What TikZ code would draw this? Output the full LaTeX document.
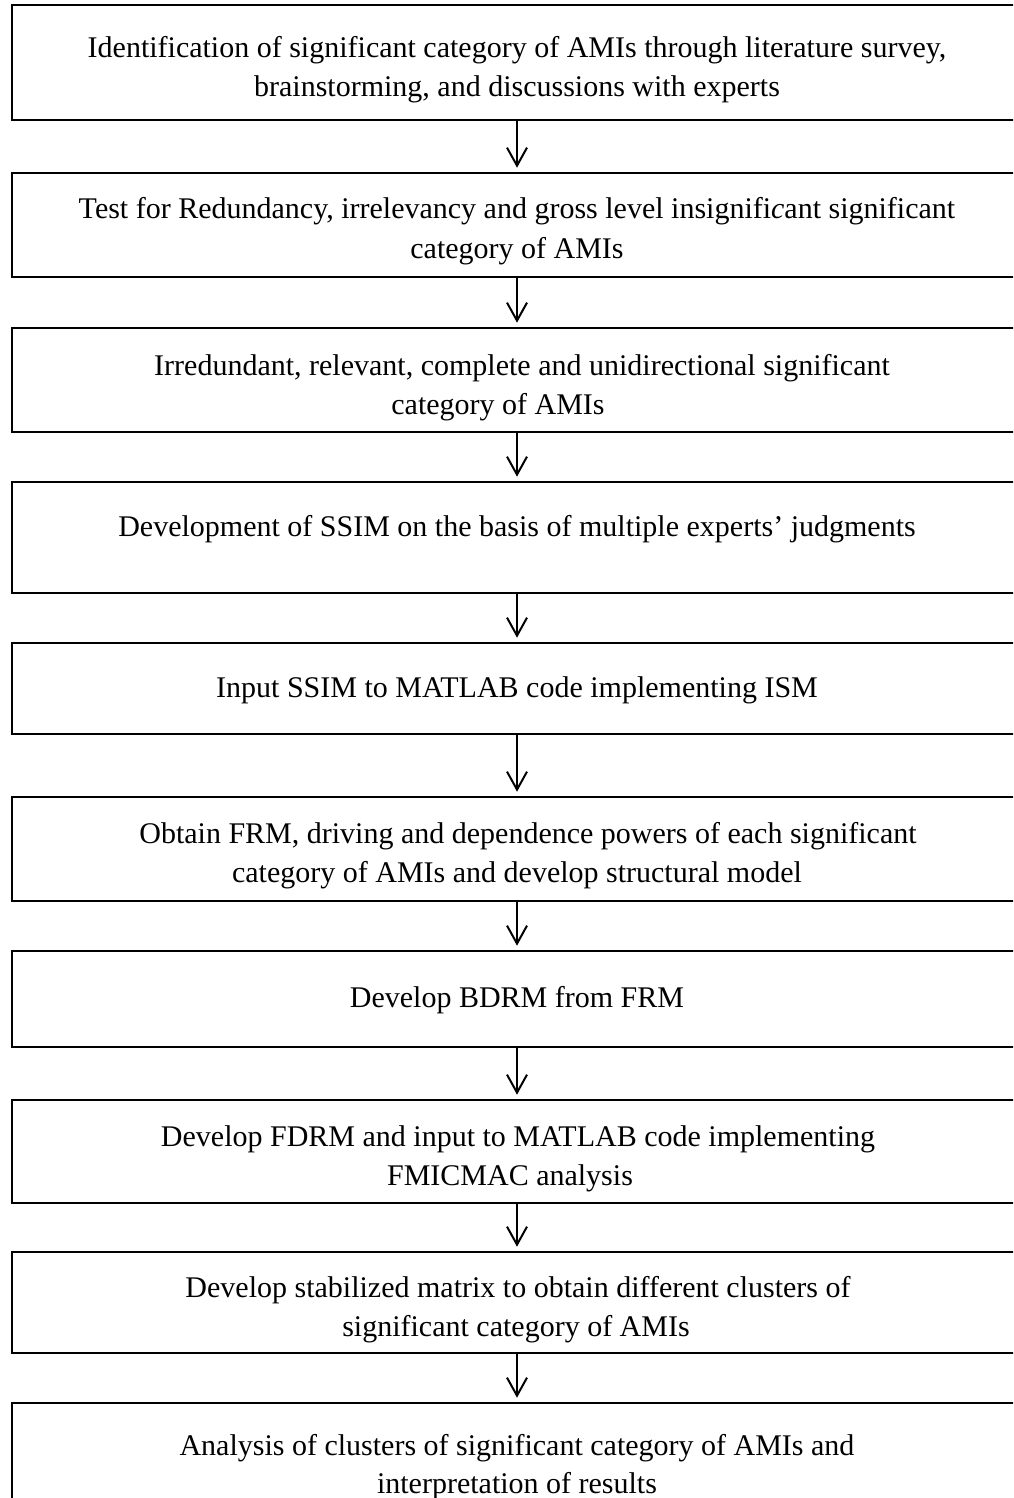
\documentclass[tikz,border=0pt]{standalone}
\usepackage{fontspec}
\setmainfont{Liberation Serif}
\usetikzlibrary{arrows.meta}
\begin{document}
\begin{tikzpicture}[x=0.5pt,y=-0.5pt,
  stepbox/.style={draw, line width=1.3pt, inner sep=0pt, minimum width=505pt},
  ln/.style={anchor=base, inner sep=0pt, font=\fontsize{15}{19}\selectfont},
  flow/.style={-{Straight Barb[length=9pt,width=10pt]}, line width=1pt, shorten >=2pt}]
\useasboundingbox (0,0) rectangle (1013,1498);
\clip (0,0) rectangle (1013,1498);

% process boxes
\node[stepbox, minimum height=57.5pt] (b1) at (517,62.5) {};
\node[stepbox, minimum height=52pt]   (b2) at (517,225) {};
\node[stepbox, minimum height=52pt]   (b3) at (517,380) {};
\node[stepbox, minimum height=55.5pt] (b4) at (517,537.5) {};
\node[stepbox, minimum height=45.5pt] (b5) at (517,688.5) {};
\node[stepbox, minimum height=52pt]   (b6) at (517,849) {};
\node[stepbox, minimum height=48pt]   (b7) at (517,999) {};
\node[stepbox, minimum height=51.5pt] (b8) at (517,1151.5) {};
\node[stepbox, minimum height=50.5pt] (b9) at (517,1302.5) {};
\node[stepbox, minimum height=68.5pt] (b10) at (517,1471.5) {};

% box texts
\node[ln] (t1a) at (517,58) {Identification of significant category of AMIs through literature survey,};
\node[ln] (t1b) at (517,97) {brainstorming, and discussions with experts};
\node[ln] (t2a) at (517,219) {Test for Redundancy, irrelevancy and gross level insignifi{\itshape c}ant significant};
\node[ln] (t2b) at (517,258) {category of AMIs};
\node[ln] (t3a) at (522,375) {Irredundant, relevant, complete and unidirectional significant};
\node[ln] (t3b) at (498,414) {category of AMIs};
\node[ln] (t4)  at (517,536) {Development of SSIM on the basis of multiple experts' judgments};
\node[ln] (t5)  at (517,697) {Input SSIM to MATLAB code implementing ISM};
\node[ln] (t6a) at (528,843) {Obtain FRM, driving and dependence powers of each significant};
\node[ln] (t6b) at (517,882) {category of AMIs and develop structural model};
\node[ln] (t7)  at (517,1007) {Develop BDRM from FRM};
\node[ln] (t8a) at (518,1146) {Develop FDRM and input to MATLAB code implementing};
\node[ln] (t8b) at (510,1185) {FMICMAC analysis};
\node[ln] (t9a) at (518,1297) {Develop stabilized matrix to obtain different clusters of};
\node[ln] (t9b) at (516,1336) {significant category of AMIs};
\node[ln] (t10a) at (517,1455) {Analysis of clusters of significant category of AMIs and};
\node[ln] (t10b) at (517,1493) {interpretation of results};

% connectors
\foreach \a/\b in {b1/b2,b2/b3,b3/b4,b4/b5,b5/b6,b6/b7,b7/b8,b8/b9,b9/b10}
  \draw[flow] (\a.south) -- (\b.north);
\end{tikzpicture}
\end{document}
